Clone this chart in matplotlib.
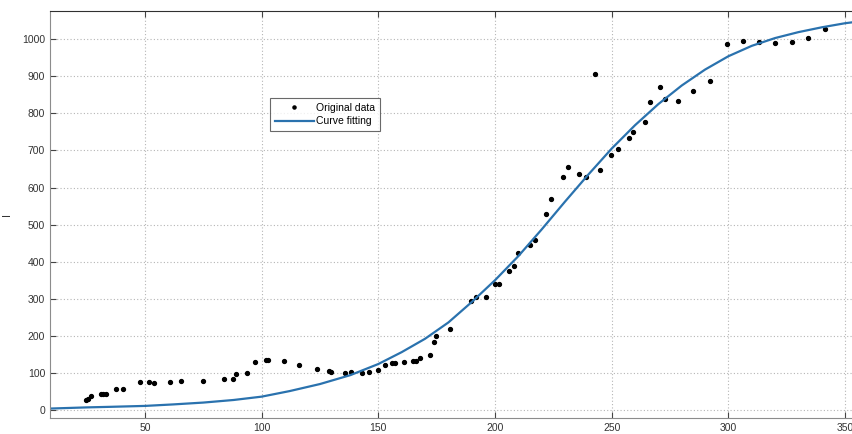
import matplotlib

matplotlib.use("Agg")

import matplotlib.pyplot as plt

data_x = [24.7, 25.7, 26.7, 31.0, 32.2, 33.2, 37.6, 40.7, 47.9, 51.9, 53.9, 60.7, 65.6,
          74.9, 83.9, 87.6, 88.9, 93.9, 97.0, 101.7, 102.9, 109.6, 115.9, 123.9, 128.9,
          129.6, 135.7, 138.2, 142.9, 145.9, 150.0, 153.0, 156.0, 157.3, 161.1, 165.0,
          166.0, 168.0, 172.0, 173.9, 174.9, 180.9, 189.7, 191.7, 196.0, 200.0, 201.7,
          206.0, 208.3, 210.0, 215.0, 217.0, 221.8, 223.9, 229.0, 231.2, 236.0, 239.0,
          243.0, 245.0, 249.7, 252.5, 257.2, 259.2, 264.2, 266.2, 270.9, 273.0, 278.2,
          285.0, 292.0, 299.2, 306.2, 313.2, 320.0, 327.2, 334.2, 341.2]
data_y = [27, 29, 39, 42, 43, 44, 57, 56, 76, 76, 74, 76, 77,
          77, 84, 84, 96, 99, 129, 136, 136, 133, 120, 111, 105,
          102, 100, 103, 100, 102, 108, 120, 126, 126, 129, 132,
          132, 139, 149, 183, 200, 218, 295, 306, 304, 341, 341,
          374, 388, 424, 446, 459, 528, 568, 628, 655, 636, 627,
          907, 647, 689, 705, 734, 751, 778, 830, 871, 840, 834,
          861, 888, 988, 996, 992, 991, 992, 1004, 1028]

# fitted curve
fit_x = [5, 15, 25, 35, 50, 62, 75, 88, 100, 112, 125, 138, 150, 160, 170, 180, 190,
         200, 210, 220, 230, 240, 250, 260, 270, 280, 290, 300, 310, 320, 330, 340,
         350, 360]
fit_y = [3, 5, 7, 8.5, 11, 15, 20, 27, 36, 51, 70, 94, 124, 156, 192, 236, 291,
         350, 415, 487, 562, 635, 705, 768, 825, 875, 918, 954, 982, 1003, 1019, 1032,
         1043, 1051]

x_ticks = [50, 100, 150, 200, 250, 300, 350]
y_ticks = [0, 100, 200, 300, 400, 500, 600, 700, 800, 900, 1000]

plt.rcParams["font.family"] = ["Liberation Sans", "DejaVu Sans"]

fig = plt.figure(figsize=(8.53, 4.34), dpi=100)
ax = fig.add_axes([50 / 853, 16 / 434, 803 / 853, 407 / 434])

ax.plot(data_x, data_y, "o", color="black", markersize=2.8, label="Original data")
ax.plot(fit_x, fit_y, "-", color="#2a72ae", linewidth=1.6, label="Curve fitting")

ax.set_xlim(9.3, 353.4)
ax.set_ylim(-21.6, 1076)
ax.set_xticks(x_ticks)
ax.set_yticks(y_ticks)
ax.tick_params(direction="in", top=True, length=4, labelsize=7.5, colors="#444444",
               labelcolor="#333333")
ax.grid(True, color="#b5b5b5", linestyle=(0, (1, 2)), linewidth=0.8)

for side in ("left", "bottom"):
    ax.spines[side].set_color("#8c8c8c")
ax.spines["top"].set_color("#303030")
ax.spines["right"].set_visible(False)

ax.set_ylabel("I", fontsize=8, color="#333333")
ax.yaxis.set_label_coords(-0.047, 0.5)

leg = ax.legend(loc="upper left", bbox_to_anchor=(220 / 803, 320 / 407), fontsize=7.5,
                frameon=True, fancybox=False, borderaxespad=0, handlelength=3.8,
                handletextpad=0.2, borderpad=0.45, labelspacing=0.35, markerscale=0.8)
leg.get_frame().set_edgecolor("#444444")
leg.get_frame().set_linewidth(0.8)

fig.savefig("out.png", dpi=100)
